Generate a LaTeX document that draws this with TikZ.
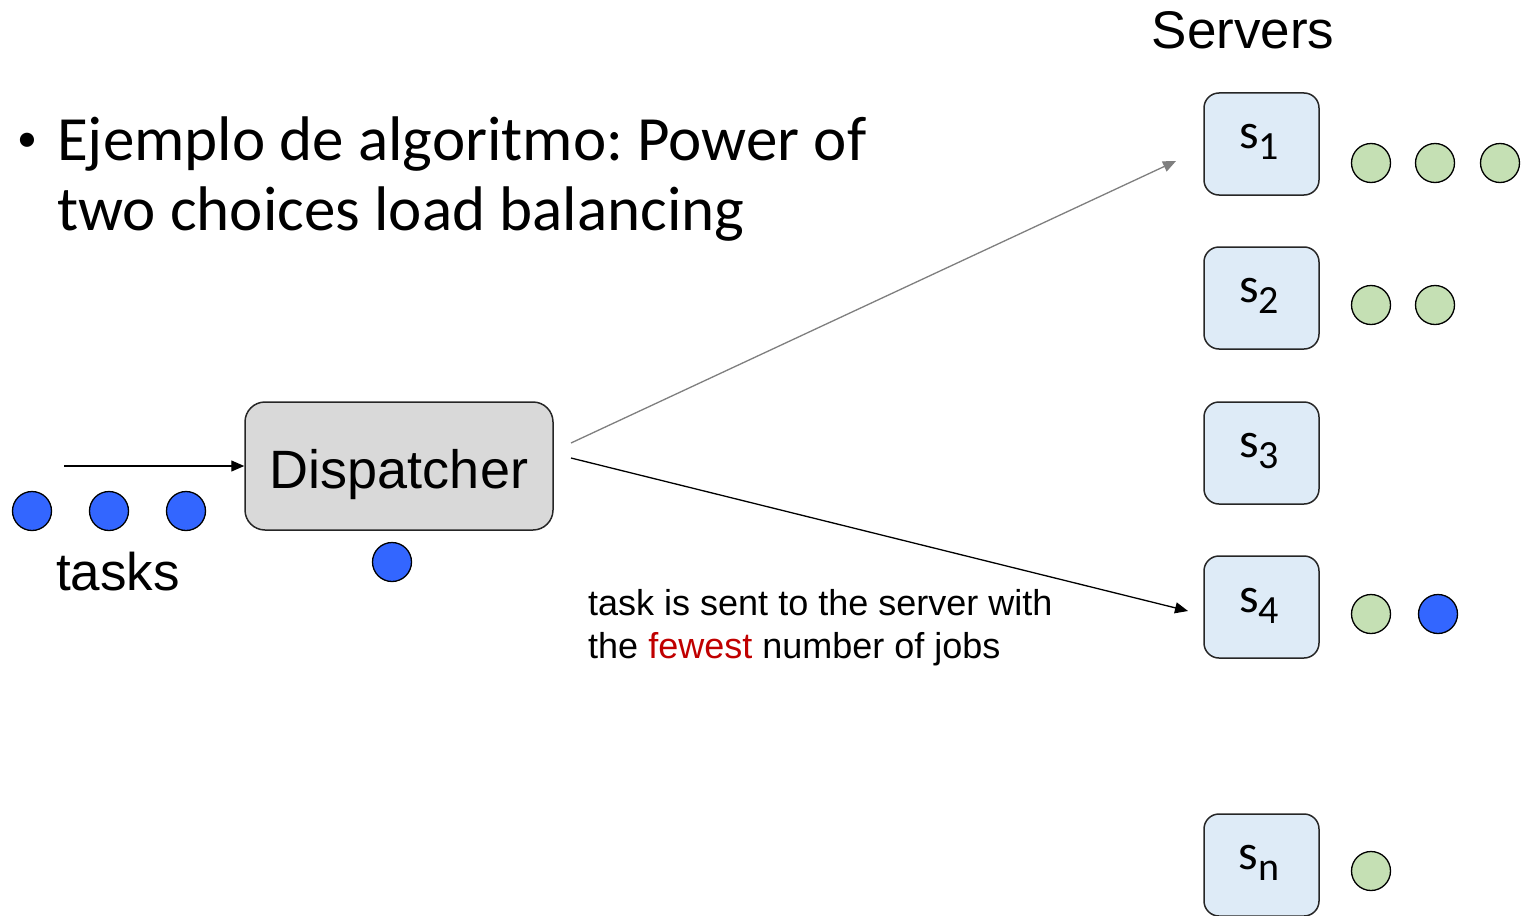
\documentclass[tikz,border=0pt]{standalone}
\usepackage{fontspec}
\setmainfont{Liberation Sans}
\newfontfamily\calibri{Carlito}
\usetikzlibrary{arrows.meta}
\frenchspacing

\definecolor{srvfill}{HTML}{DEEBF7}
\definecolor{dispfill}{HTML}{D9D9D9}
\definecolor{jobgreen}{HTML}{C5E0B4}
\definecolor{taskblue}{HTML}{3366FF}
\definecolor{hotred}{HTML}{C00000}
\definecolor{arrgray}{HTML}{7F7F7F}

% server label: s with a lowered index
\newcommand\srvname[1]{{\calibri\fontsize{50}{50}\selectfont s\raisebox{-11pt}{\fontsize{40}{40}\selectfont #1}}}

\begin{document}
\begin{tikzpicture}[x=1pt,y=-1pt,
  server/.style={draw=black!85, line width=1.5pt, fill=srvfill, rounded corners=15pt,
    minimum width=115pt, minimum height=102pt, inner sep=0pt},
  dispbox/.style={draw=black!85, line width=1.5pt, fill=dispfill, rounded corners=20pt,
    minimum width=308pt, minimum height=128pt, inner sep=0pt},
  job/.style={circle, draw=black, line width=1.3pt, fill=jobgreen, minimum size=39pt, inner sep=0pt},
  task/.style={job, fill=taskblue},
  lbl/.style={inner sep=0pt, anchor=base},
  headline/.style={inner sep=0pt, anchor=base west, font=\calibri\fontsize{63}{70}\selectfont},
  arr/.style={-{Triangle[length=13pt,width=11pt]}, line width=1.3pt},
]
\useasboundingbox (0,0) rectangle (1522,915);

% heading
\node[inner sep=0pt, anchor=base west, font=\calibri\fontsize{40}{40}\selectfont] (bul) at (17,151.5) {•};
\node[headline] (head1) at (57,160) {Ejemplo de algoritmo: Power of};
\node[headline] (head2) at (57,230) {two choices load balancing};

% servers column
\node[lbl, font=\fontsize{53}{53}\selectfont] (srvtitle) at (1243,49) {Servers};

\node[server] (s1) at (1261.5,144) {};
\node[server] (s2) at (1261.5,298) {};
\node[server] (s3) at (1261.5,453) {};
\node[server] (s4) at (1261.5,607) {};
\node[server] (sn) at (1261.5,865) {};

\node[lbl] (l1) at (1259,148) {\srvname{1}};
\node[lbl] (l2) at (1259,302) {\srvname{2}};
\node[lbl] (l3) at (1259,457) {\srvname{3}};
\node[lbl] (l4) at (1259,612) {\srvname{4}};
\node[lbl] (ln) at (1259,869) {\srvname{n}};

% queued jobs
\node[job] (q11) at (1371,163) {};
\node[job] (q12) at (1435,163) {};
\node[job] (q13) at (1500,163) {};
\node[job] (q21) at (1371,305) {};
\node[job] (q22) at (1435,305) {};
\node[job] (q41) at (1371,614) {};
\node[task] (q42) at (1438,614) {};
\node[job] (qn1) at (1371,871) {};

% dispatcher
\node[dispbox] (disp) at (399,466) {};
\node[lbl, font=\fontsize{54}{54}\selectfont] (dtext) at (399,488) {Dispatcher};
\node[task] (cur) at (392,562) {};

% incoming tasks
\node[task] (t1) at (32,511) {};
\node[task] (t2) at (109,511) {};
\node[task] (t3) at (186,511) {};
\node[lbl, font=\fontsize{53}{53}\selectfont] (tasks) at (118,590) {tasks};

% caption
\node[inner sep=0pt, anchor=base west, font=\fontsize{36}{36}\selectfont] (cap1) at (588,615) {task is sent to the server with};
\node[inner sep=0pt, anchor=base west, font=\fontsize{36}{36}\selectfont] (cap2) at (588,658) {the \textcolor{hotred}{fewest} number of jobs};

% connectors
\coordinate (inS) at (64,466);
\coordinate (pA) at (571,443);
\coordinate (pAe) at (1176,161);
\coordinate (pB) at (571,458);
\coordinate (pBe) at (1188,611);

\draw[arr] (inS) -- (disp.west);
\draw[arr, draw=arrgray, fill=arrgray] (pA) -- (pAe);
\draw[arr] (pB) -- (pBe);
\end{tikzpicture}
\end{document}
